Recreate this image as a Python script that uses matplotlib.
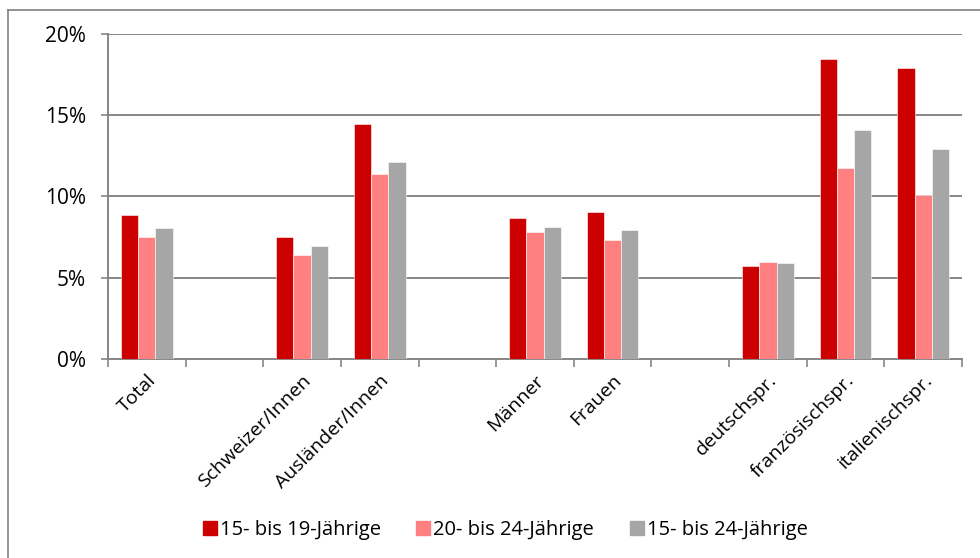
import numpy as np
import matplotlib
matplotlib.use("Agg")
import matplotlib.pyplot as plt
from matplotlib.lines import Line2D
from matplotlib.ticker import FuncFormatter

plt.rcParams['font.family'] = ['Open Sans', 'DejaVu Sans']

categories = ["Total", "", "Schweizer/Innen", "Ausländer/Innen", "",
              "Männer", "Frauen", "", "deutschspr.", "französischspr.", "italienischspr."]
series_names = ["15- bis 19-Jährige", "20- bis 24-Jährige", "15- bis 24-Jährige"]
age_15_19 = [8.83, np.nan, 7.51, 14.47, np.nan, 8.68, 9.05, np.nan, 5.69, 18.45, 17.91]
age_20_24 = [7.53, np.nan, 6.40, 11.39, np.nan, 7.78, 7.31, np.nan, 5.97, 11.74, 10.06]
age_15_24 = [8.03, np.nan, 6.92, 12.13, np.nan, 8.13, 7.94, np.nan, 5.87, 14.06, 12.95]
colors = ["#CC0000", "#FF8080", "#A6A6A6"]

fig = plt.figure(figsize=(9.8, 5.58), dpi=100)
ax = fig.add_axes([0.1102, 0.357, 0.8714, 0.582])

x = np.arange(len(categories))
w = 0.222
for i, (vals, col) in enumerate(zip([age_15_19, age_20_24, age_15_24], colors)):
    ax.bar(x + (i - 1) * w, vals, w, color=col, edgecolor="white", linewidth=0.4,
           zorder=3, label=series_names[i])

ax.set_xlim(-0.5, len(categories) - 0.5)
ax.set_ylim(0, 20)
ax.set_yticks([0, 5, 10, 15, 20])
ax.yaxis.set_major_formatter(FuncFormatter(lambda v, p: f"{v:.0f}%"))
ax.grid(axis="y", color="#868686", linewidth=1.4, zorder=0)

# category boundaries carry the tick marks, names sit in between
ax.set_xticks(np.arange(-0.5, len(categories), 1.0))
ax.set_xticklabels([])
ax.tick_params(axis="x", length=6, width=1.2, color="#868686", direction="out")
ax.set_xticks(x, minor=True)
ax.set_xticklabels(categories, minor=True, rotation=45, ha="right",
                   rotation_mode="anchor", fontsize=14)
ax.tick_params(axis="x", which="minor", length=0, pad=9)
ax.tick_params(axis="y", length=5, width=1.2, color="#868686", labelsize=15, pad=11)

for s in ["top", "right"]:
    ax.spines[s].set_visible(False)
for s in ["left", "bottom"]:
    ax.spines[s].set_color("#868686")
    ax.spines[s].set_linewidth(1.4)

handles = [Line2D([], [], marker="s", linestyle="", markersize=10,
                  markerfacecolor=c, markeredgecolor=c) for c in colors]
fig.legend(handles, series_names, loc="center", bbox_to_anchor=(0.514, 0.05),
           ncol=3, frameon=False, fontsize=14.5, handletextpad=0.0,
           columnspacing=1.6, handlelength=1.0)

# outer chart frame
fig.add_artist(Line2D([8 / 980, 1], [1 - 10 / 558, 1 - 10 / 558],
                      transform=fig.transFigure, color="#808080", linewidth=1.2))
fig.add_artist(Line2D([8 / 980, 8 / 980], [0, 1 - 10 / 558],
                      transform=fig.transFigure, color="#808080", linewidth=1.2))

fig.savefig("out.png", dpi=100)
